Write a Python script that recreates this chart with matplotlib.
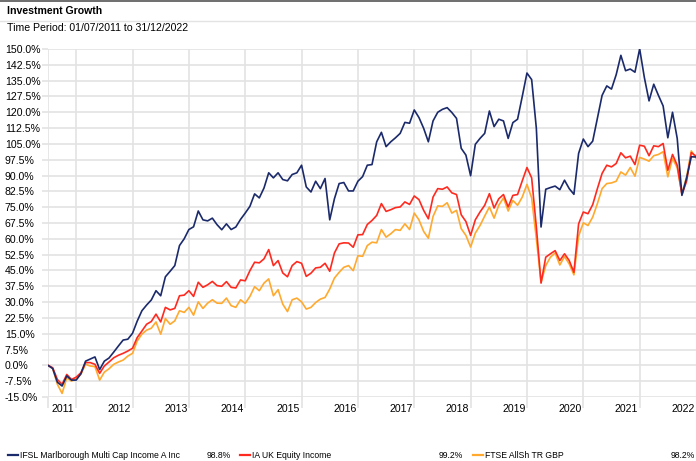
import numpy as np
import matplotlib
matplotlib.use("Agg")
import matplotlib.pyplot as plt
from matplotlib.lines import Line2D

plt.rcParams['font.family'] = ['Liberation Sans', 'DejaVu Sans']

# monthly cumulative growth (%), 01/07/2011 .. 31/12/2022
fund = [0, -1.5, -8, -9.8, -5, -7, -7, -4, 2, 3, 4, -2, 2, 3.5, 6.3, 9.2, 12, 12.4, 15.2, 21,
        25.9, 28.6, 31, 35.4, 33, 42, 44.6, 47.3, 56.8, 60, 64.4, 65.7, 73.2, 69, 68.5, 69.8, 66.7, 64.3, 67.1, 64.4,
        65.6, 69.2, 72.2, 75.4, 81.3, 79.4, 84.1, 91.3, 88.9, 91.3, 88.1, 87.5, 90.5, 91.3, 94.9, 84.6, 82.2, 87.3, 83.8, 88.6,
        69, 79, 86.2, 86.7, 82.7, 82.7, 87.3, 89.5, 94.9, 95.2, 106, 110.5, 103.7, 106, 107.9, 110, 115.2, 114.8, 121.1, 117.5,
        112.4, 106, 115.9, 120, 121.4, 122.2, 119.9, 117.1, 102.9, 99.7, 89.9, 104.8, 107.6, 110, 120.6, 113.2, 116.7, 115.9, 107.6, 115.1,
        116.7, 127.5, 138.6, 135.5, 112.4, 65.6, 83.5, 84.3, 85, 83.3, 87.8, 83.8, 81.1, 100.5, 107.3, 103.7, 106.3, 117.1, 128, 132.5,
        131, 137.8, 147, 139.7, 140.5, 139, 150.1, 136.5, 125.4, 133.3, 128, 123, 107.9, 120, 107.6, 80.6, 88.9, 98.9, 98.8]

sector = [0, -1.1, -6.7, -9, -4.3, -6.7, -5.6, -3.5, 1.3, 1.3, 0.5, -3.8, -0.3, 1.6, 3.6, 4.8, 5.7, 6.8, 8.1, 13.2,
          16.3, 19.5, 20.8, 24.3, 20.6, 27.5, 26.3, 27, 33, 33.3, 35.4, 32.7, 39.4, 37, 38.2, 39.8, 37.8, 37.5, 39.7, 37,
          36.7, 40.5, 40.1, 44.9, 48.9, 48.6, 50.5, 54.9, 47.3, 49.7, 43.8, 42, 47.3, 49.2, 48.4, 42.2, 43.7, 46.2, 46.5, 48.4,
          44.6, 53.3, 57.6, 58.1, 58, 56, 61.9, 62, 66.8, 68.7, 71.1, 76.7, 73, 73.8, 74.8, 75.1, 77.5, 76.3, 80.3, 78.6,
          73.5, 69.5, 79.8, 83.8, 83.5, 84.6, 81.8, 81, 71.4, 68.2, 61.6, 69, 72.7, 75.9, 81.4, 74.6, 79, 81, 75.1, 80.6,
          81, 87.5, 93.8, 88.9, 65.6, 39, 51.3, 52.9, 54.4, 49.7, 52.9, 49.7, 44.1, 67.1, 72.7, 71.9, 76.2, 83.8, 91, 94.9,
          94.1, 95.7, 100.8, 98.4, 99.2, 95.2, 104.4, 103.9, 99.4, 104.1, 103.7, 105.2, 92.5, 100, 94.9, 81, 87.3, 100.9, 99.2]

index = [0, -1.5, -9, -13.3, -5.9, -7.5, -6.3, -4.3, 0.5, -0.3, -0.6, -7, -3.2, -1.6, 0.5, 1.6, 2.5, 4.4, 5.7, 11.6,
         14.8, 16.7, 17.6, 20.6, 14.8, 22.2, 19.5, 21.1, 25.9, 25.1, 27.5, 23.8, 30.1, 27, 29.5, 31.1, 29.5, 29.4, 31.9, 28.3,
         27.5, 31.1, 29.4, 32.7, 37.3, 35.4, 39, 41, 33, 35.9, 29, 25.5, 31.1, 31.9, 30.1, 26.7, 27.5, 29.8, 31.4, 32.2,
         36.2, 41.4, 44.1, 46.5, 47.3, 44.9, 52, 51.7, 56.8, 58.4, 58.1, 64.4, 60.8, 62.4, 64.4, 64, 67.1, 64.4, 72.2, 69,
         63.5, 60.3, 70.6, 75.6, 75.4, 77.1, 72.2, 73.5, 64.8, 61.6, 56.1, 62.7, 66.3, 70.8, 75.1, 69.8, 75.9, 79.4, 73.2, 78.2,
         75.9, 79.8, 85.8, 79.4, 60, 39.4, 47.3, 51.3, 53.3, 47.6, 51.6, 48.1, 42.9, 61.3, 67.6, 66.3, 70.3, 76.7, 83.8, 86.2,
         86.5, 87.3, 91.7, 90.2, 93.8, 89.7, 98.6, 97.8, 96.8, 99.4, 100, 101.3, 89.4, 98.1, 93.7, 81.4, 89.4, 101.7, 98.2]

names = ['IFSL Marlborough Multi Cap Income A Inc', 'IA UK Equity Income', 'FTSE AllSh TR GBP']
totals = ['98.8%', '99.2%', '98.2%']
colors = ['#1b2a6b', '#ff2a1f', '#ffa92e']
years = list(range(2011, 2023))
yticks = np.arange(-15, 150.1, 7.5)

months = np.arange(len(fund))

W, H = 696, 461
fig = plt.figure(figsize=(W / 100, H / 100), dpi=100)
ax = fig.add_axes([48 / W, 1 - 397 / H, 648 / W, (397 - 49) / H])

grid_c = '#e3e3e3'
fs = 7.6
for series, c in zip([fund, sector, index][::-1], colors[::-1]):
    ax.plot(months, series, color=c, lw=1.2, zorder=3)

ax.set_xlim(0, 138)
ax.set_ylim(-15, 150)

# year gridlines at 1 Jan, labels sit inside each year
ax.set_xticks([0] + [6 + 12 * k for k in range(11)])
ax.set_xticklabels([])
ax.set_xticks([3.2 + 12 * k for k in range(len(years))], minor=True)
ax.set_xticklabels([str(y) for y in years], minor=True, fontsize=fs)
ax.tick_params(axis='x', which='major', length=8, color=grid_c, width=1.2)
ax.tick_params(axis='x', which='minor', length=0, pad=5)

ax.set_yticks(yticks)
ax.set_yticklabels(['%.1f%%' % v for v in yticks], fontsize=fs)
ax.tick_params(axis='y', length=4, color=grid_c, width=1.2, pad=27)
for lab in ax.get_yticklabels():
    lab.set_ha('left')

ax.grid(True, which='major', color=grid_c, lw=1.2, zorder=0)
for s in ax.spines.values():
    s.set_visible(False)

# header
fig.add_artist(Line2D([0, 1], [1 - 1.5 / H, 1 - 1.5 / H], color='#555555', lw=1.2))
fig.add_artist(Line2D([0, 1], [1 - 21 / H, 1 - 21 / H], color='#e3e3e3', lw=1))
fig.text(7 / W, 1 - 11.5 / H, 'Investment Growth', fontsize=fs, fontweight='bold', va='center')
fig.text(7 / W, 1 - 28 / H, 'Time Period: 01/07/2011 to 31/12/2022', fontsize=fs, va='center')

# legend row
ly = 1 - 455 / H
sw_x = [8, 240, 473]
val_x = [231, 463, 695]
for x0, vx, nm, tot, c in zip(sw_x, val_x, names, totals, colors):
    fig.add_artist(Line2D([x0 / W, (x0 + 10) / W], [ly, ly], color=c, lw=1.6))
    fig.text((x0 + 12) / W, ly, nm, fontsize=6.2, va='center')
    fig.text(vx / W, ly, tot, fontsize=6.2, va='center', ha='right')

fig.savefig('out.png', dpi=100)
